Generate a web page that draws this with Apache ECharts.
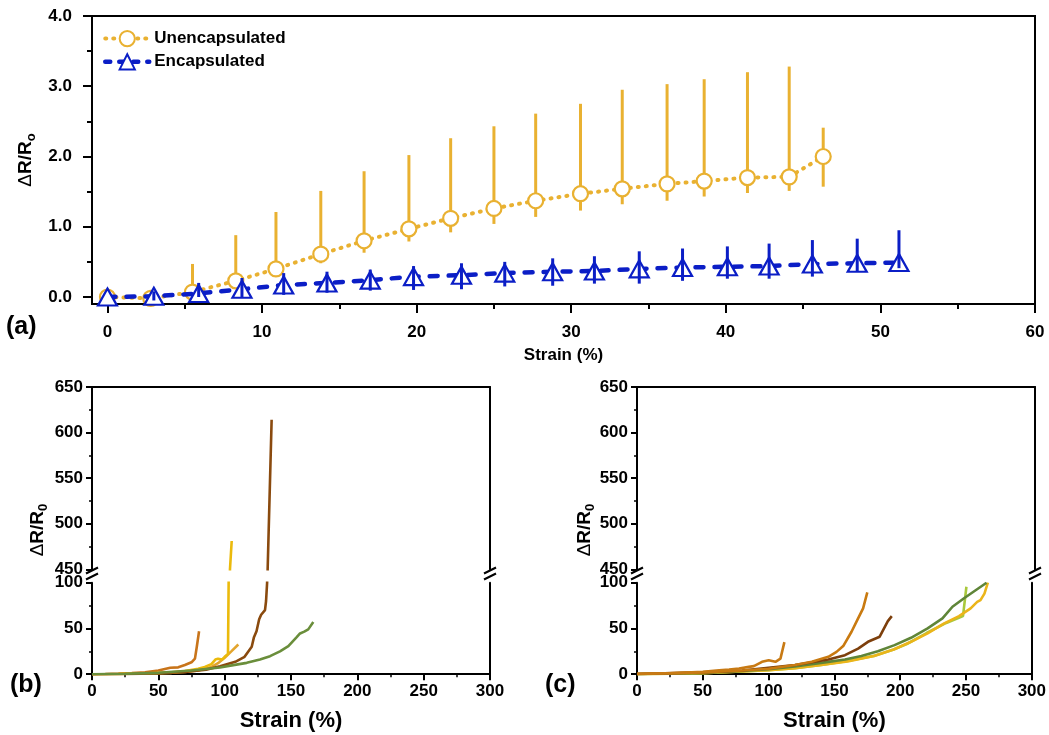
<!DOCTYPE html>
<html><head><meta charset="utf-8">
<script src="https://cdn.jsdelivr.net/npm/echarts@6/dist/echarts.min.js"></script>
<style>html,body{margin:0;padding:0;background:#fff}#c{width:1049px;height:735px}</style>
</head><body><div id="c"></div><script>
// ---------- Panel (a) data ----------
const unencX  = [0, 2.8, 5.5, 8.3, 10.9, 13.8, 16.6, 19.5, 22.2, 25.0, 27.7, 30.6, 33.3, 36.2, 38.6, 41.4, 44.1, 46.3];
const unencY  = [0, -0.02, 0.07, 0.23, 0.40, 0.61, 0.80, 0.97, 1.12, 1.26, 1.37, 1.47, 1.54, 1.61, 1.65, 1.70, 1.71, 2.00];
const unencHi = [0, 0.10, 0.47, 0.88, 1.21, 1.51, 1.79, 2.02, 2.26, 2.43, 2.61, 2.75, 2.95, 3.03, 3.10, 3.20, 3.28, 2.41];
const unencLo = [0, -0.10, -0.04, 0.14, 0.30, 0.48, 0.63, 0.79, 0.92, 1.04, 1.14, 1.23, 1.32, 1.37, 1.43, 1.48, 1.51, 1.57];

const encX  = [0, 3.0, 5.9, 8.7, 11.4, 14.2, 17.0, 19.8, 22.9, 25.7, 28.8, 31.5, 34.4, 37.2, 40.1, 42.8, 45.6, 48.5, 51.2];
const encY  = [0, 0.01, 0.05, 0.11, 0.17, 0.20, 0.24, 0.29, 0.31, 0.34, 0.36, 0.37, 0.40, 0.42, 0.43, 0.44, 0.47, 0.48, 0.49];
const encHi = [0, 0.08, 0.20, 0.27, 0.34, 0.36, 0.39, 0.44, 0.48, 0.50, 0.55, 0.58, 0.65, 0.69, 0.72, 0.76, 0.81, 0.83, 0.95];
const encLo = [0, -0.05, 0.00, 0.00, 0.03, 0.06, 0.09, 0.10, 0.11, 0.15, 0.16, 0.19, 0.19, 0.23, 0.26, 0.26, 0.29, 0.37, 0.41];

const aXTicks = [0, 10, 20, 30, 40, 50, 60];
const aXMinor = [5, 15, 25, 35, 45, 55];
const aYTicks = [0, 1, 2, 3, 4];
const aYMinor = [0.5, 1.5, 2.5, 3.5];

// ---------- Panel (b) data ----------
const b1X = [0, 10, 20, 30, 40, 50, 59, 65, 70, 75, 77.6, 79, 80.7];
const b1Y = [0, 0.3, 0.7, 1.2, 2, 4, 7, 7.5, 10, 13, 17, 30, 47];
const b2X = [0, 20, 40, 60, 70, 80, 85, 90, 93, 95, 98, 100, 102.5, 103, 104, 105.3];
const b2Y = [0, 0.3, 0.8, 2, 3.5, 6, 8, 11, 16, 17, 16, 19, 22, 100, 450, 481];
const b3X = [0, 20, 40, 60, 70, 80, 90, 95, 100, 105, 110.3];
const b3Y = [0, 0.2, 0.7, 1.5, 2.5, 4, 8, 12, 18, 25, 32.5];
const b4X = [0, 30, 50, 70, 86, 96.5, 108, 115, 120.4, 122, 124, 126, 127.5, 130.4, 131.2, 132, 132.4, 135.4];
const b4Y = [0, 0.3, 1, 2.5, 5, 8.8, 13.5, 19, 30, 40, 47, 60, 65, 70, 80, 100, 450, 614];
const b5X = [0, 25, 50, 75, 96.5, 106.5, 116.6, 126.6, 134.2, 141.7, 148, 154.3, 156.8, 160, 163, 166.8];
const b5Y = [0, 0.5, 1.5, 4, 7.3, 9.9, 12.4, 16, 19.7, 25, 30.7, 40.5, 44.5, 46.5, 49, 57];

// ---------- Panel (c) data ----------
const c1X = [0, 25, 50, 62.4, 70, 77.5, 85, 88.8, 95, 100.1, 105.2, 109, 112];
const c1Y = [0.5, 1, 2.5, 4.4, 5, 6.2, 8, 8.8, 13.5, 15.3, 13.5, 17, 35];
const c2X = [0, 50, 80, 100, 120, 132.8, 145.4, 151.6, 156.7, 163, 168, 171.8, 175];
const c2Y = [0.3, 2, 4, 6, 10, 13.5, 19, 24.4, 30.7, 46.4, 61, 72, 89.5];
const c3X = [0, 50, 80, 100, 120, 145.4, 158, 168, 175.5, 184.4, 190.6, 193.6];
const c3Y = [0.3, 2, 4, 7, 10, 16, 20.8, 28, 35.4, 41, 58, 63.5];
const c4X = [0, 50, 80, 100, 120, 132.8, 145.4, 158, 170.5, 183, 195.7, 208.2, 220.8, 232.1, 239.7, 248.5, 265.6];
const c4Y = [0.3, 1.5, 3.5, 5.5, 8.5, 11, 13.5, 16, 20, 25, 31.8, 39.8, 50, 61, 73.7, 83, 100];
const c5X = [0, 50, 100, 120, 140, 160, 180, 195, 208.2, 220.8, 233.4, 244.7, 253.5, 258.5, 261, 264, 266.6];
const c5Y = [0, 1, 4.5, 6.5, 10, 14, 20, 27, 35.4, 44.6, 55.5, 63.5, 72, 79, 81, 88, 100];
const c6X = [0, 50, 100, 120, 140, 160, 180, 195, 205, 220, 235, 245, 247.7, 250.3];
const c6Y = [0, 1, 4.5, 6.5, 10, 14.5, 20, 27, 33, 45, 56, 62, 63.5, 95.6];

// ---------- styling ----------
const FONT = "'Liberation Sans', Arial, sans-serif";
const ORANGE = '#E9B131';
const BLUE = '#0B1EC6';
const AXC = '#000';

const zip = (xs, ys) => xs.map((x, i) => [x, ys[i]]);

const chart = echarts.init(document.getElementById('c'), null, {renderer: 'canvas'});

const grids = [
  {left: 92, top: 16, width: 943, height: 288, show: true, borderColor: '#000', borderWidth: 2},
  {left: 92, top: 387, width: 398, height: 182.3},
  {left: 92, top: 582.7, width: 398, height: 91.5},
  {left: 637, top: 387, width: 398, height: 182.3},
  {left: 637, top: 582.7, width: 398, height: 91.5}
];

const lbl = (size, extra) => Object.assign({color: '#000', fontFamily: FONT, fontWeight: 'bold', fontSize: size}, extra || {});
const lineS = {onZero: false, lineStyle: {color: AXC, width: 2}};
const noLine = {show: false, onZero: false};

const xAxes = [
  {gridIndex: 0, type: 'value', min: -1, max: 60, position: 'bottom',
   axisLine: lineS, splitLine: {show: false},
   axisTick: {customValues: aXTicks, length: 9, lineStyle: {color: AXC, width: 2}},
   axisLabel: lbl(17, {customValues: aXTicks, margin: 20}),
   name: 'Strain (%)', nameLocation: 'middle', nameGap: 43, nameTextStyle: lbl(17)},
  {gridIndex: 0, type: 'value', min: -1, max: 60, position: 'bottom',
   axisLine: noLine, splitLine: {show: false},
   axisTick: {customValues: aXMinor, length: 5, lineStyle: {color: AXC, width: 2}},
   axisLabel: {show: false}}
];
const yAxes = [
  {gridIndex: 0, type: 'value', min: -0.1, max: 4.0, position: 'left',
   axisLine: lineS, splitLine: {show: false},
   axisTick: {customValues: aYTicks, length: 9, lineStyle: {color: AXC, width: 2}},
   axisLabel: lbl(17, {customValues: aYTicks, margin: 20, formatter: v => v.toFixed(1)}),
   name: '{d|Δ}R/R{s|o}', nameLocation: 'middle', nameGap: 50,
   nameTextStyle: lbl(19, {rich: {d: {fontFamily: FONT, fontSize: 19, fontWeight: 'normal', color: '#000'},
                                 s: {fontFamily: FONT, fontSize: 13, fontWeight: 'bold', color: '#000', padding: [10, 0, 0, 0]}}})},
  {gridIndex: 0, type: 'value', min: -0.1, max: 4.0, position: 'left',
   axisLine: noLine, splitLine: {show: false},
   axisTick: {customValues: aYMinor, length: 5, lineStyle: {color: AXC, width: 2}},
   axisLabel: {show: false}}
];

function brokenPanel(gUp, gLo) {
  xAxes.push({gridIndex: gUp, type: 'value', min: 0, max: 300, position: 'top',
    axisLine: lineS, axisTick: {show: false}, axisLabel: {show: false}, splitLine: {show: false}});
  const upIdxX = xAxes.length - 1;
  xAxes.push({gridIndex: gLo, type: 'value', min: 0, max: 300, interval: 50, position: 'bottom',
    axisLine: lineS, splitLine: {show: false},
    axisTick: {length: 6, lineStyle: {color: AXC, width: 2}},
    minorTick: {show: true, splitNumber: 2, length: 3, lineStyle: {color: AXC, width: 1.5}},
    axisLabel: lbl(17, {margin: 9}),
    name: 'Strain (%)', nameLocation: 'middle', nameGap: 36, nameTextStyle: lbl(22)});
  const loIdxX = xAxes.length - 1;
  yAxes.push({gridIndex: gUp, type: 'value', min: 450, max: 650, interval: 50, position: 'left',
    axisLine: lineS, splitLine: {show: false},
    axisTick: {length: 6, lineStyle: {color: AXC, width: 2}},
    minorTick: {show: true, splitNumber: 2, length: 3, lineStyle: {color: AXC, width: 1.5}},
    axisLabel: lbl(17, {margin: 9})});
  const upIdxY = yAxes.length - 1;
  yAxes.push({gridIndex: gUp, type: 'value', min: 450, max: 650, position: 'right',
    axisLine: lineS, axisTick: {show: false}, axisLabel: {show: false}, splitLine: {show: false}});
  yAxes.push({gridIndex: gLo, type: 'value', min: 0, max: 100, interval: 50, position: 'left',
    axisLine: lineS, splitLine: {show: false},
    axisTick: {length: 6, lineStyle: {color: AXC, width: 2}},
    minorTick: {show: true, splitNumber: 2, length: 3, lineStyle: {color: AXC, width: 1.5}},
    axisLabel: lbl(17, {margin: 9})});
  const loIdxY = yAxes.length - 1;
  yAxes.push({gridIndex: gLo, type: 'value', min: 0, max: 100, position: 'right',
    axisLine: lineS, axisTick: {show: false}, axisLabel: {show: false}, splitLine: {show: false}});
  return {upIdxX, loIdxX, upIdxY, loIdxY};
}
const pb = brokenPanel(1, 2);
const pc = brokenPanel(3, 4);

function errBar(xs, lo, hi, color, width, z) {
  return {type: 'custom', xAxisIndex: 0, yAxisIndex: 0, z: z, silent: true, clip: true,
    data: xs.map((x, i) => [x, lo[i], hi[i]]),
    encode: {x: 0, y: [1, 2]},
    renderItem: (params, api) => {
      const p1 = api.coord([api.value(0), api.value(1)]);
      const p2 = api.coord([api.value(0), api.value(2)]);
      return {type: 'line', shape: {x1: p1[0], y1: p1[1], x2: p2[0], y2: p2[1]},
              style: {stroke: color, lineWidth: width}};
    }};
}

function curve(xs, ys, color, p) {
  const base = {type: 'line', symbol: 'none', silent: true, clip: true,
    lineStyle: {color: color, width: 2.6}, data: zip(xs, ys)};
  return [
    Object.assign({}, base, {xAxisIndex: p.loIdxX, yAxisIndex: p.loIdxY}),
    Object.assign({}, base, {xAxisIndex: p.upIdxX, yAxisIndex: p.upIdxY})
  ];
}

const series = [
  errBar(unencX, unencLo, unencHi, ORANGE, 3, 2),
  {name: 'Unencapsulated', type: 'line', xAxisIndex: 0, yAxisIndex: 0, z: 3,
   data: zip(unencX, unencY), symbol: 'circle', symbolSize: 15, showAllSymbol: true,
   lineStyle: {color: ORANGE, width: 4, type: [1, 7], cap: 'round'},
   itemStyle: {color: '#fff', borderColor: ORANGE, borderWidth: 2.2}},
  {name: 'Encapsulated', type: 'line', xAxisIndex: 0, yAxisIndex: 0, z: 4,
   data: zip(encX, encY), symbol: 'triangle', symbolSize: [19, 17], showAllSymbol: true,
   lineStyle: {color: BLUE, width: 4.5, type: [8, 11], cap: 'round'},
   itemStyle: {color: '#fff', borderColor: BLUE, borderWidth: 2.2}},
  errBar(encX, encLo, encHi, BLUE, 3, 5)
]
.concat(curve(b1X, b1Y, '#C8741A', pb))
.concat(curve(b3X, b3Y, '#E3A52E', pb))
.concat(curve(b2X, b2Y, '#EBBA0C', pb))
.concat(curve(b4X, b4Y, '#8A4A0E', pb))
.concat(curve(b5X, b5Y, '#6A8E3B', pb))
.concat(curve(c6X, c6Y, '#A9C83C', pc))
.concat(curve(c5X, c5Y, '#EBB51A', pc))
.concat(curve(c4X, c4Y, '#5F8538', pc))
.concat(curve(c3X, c3Y, '#7D3F0C', pc))
.concat(curve(c2X, c2Y, '#C97A10', pc))
.concat(curve(c1X, c1Y, '#C87A14', pc));

function breakMark(x) {
  return [
    {type: 'line', shape: {x1: x - 6, y1: 573.5, x2: x + 6, y2: 567.5}, style: {stroke: '#000', lineWidth: 2}},
    {type: 'line', shape: {x1: x - 6, y1: 579.5, x2: x + 6, y2: 573.5}, style: {stroke: '#000', lineWidth: 2}}
  ];
}
const yTitleRich = {
  d: {fontFamily: FONT, fontSize: 19, fontWeight: 'normal', fill: '#000'},
  r: {fontFamily: FONT, fontSize: 19, fontWeight: 'bold', fill: '#000'},
  s: {fontFamily: FONT, fontSize: 13, fontWeight: 'bold', fill: '#000', padding: [10, 0, 0, 0]}
};
const graphic = [
  {type: 'text', left: 6, top: 315, style: {text: '(a)', font: 'bold 25px ' + FONT, fill: '#000'}},
  {type: 'text', left: 10, top: 673, style: {text: '(b)', font: 'bold 25px ' + FONT, fill: '#000'}},
  {type: 'text', left: 545, top: 673, style: {text: '(c)', font: 'bold 25px ' + FONT, fill: '#000'}},
  {type: 'text', x: 38, y: 530, rotation: Math.PI / 2,
   style: {text: '{d|Δ}{r|R/R}{s|0}', rich: yTitleRich, align: 'center', verticalAlign: 'middle'}},
  {type: 'text', x: 585, y: 530, rotation: Math.PI / 2,
   style: {text: '{d|Δ}{r|R/R}{s|0}', rich: yTitleRich, align: 'center', verticalAlign: 'middle'}}
].concat(breakMark(92), breakMark(490), breakMark(637), breakMark(1035));

chart.setOption({
  animation: false,
  backgroundColor: '#fff',
  grid: grids,
  xAxis: xAxes,
  yAxis: yAxes,
  legend: {
    data: [
      {name: 'Unencapsulated', lineStyle: {width: 4, type: [1, 7], cap: 'round'}},
      {name: 'Encapsulated', lineStyle: {width: 4.5, type: [5, 9], cap: 'round'}}
    ],
    orient: 'vertical', left: 103, top: 30, padding: 0,
    itemWidth: 44, itemHeight: 19, itemGap: 6,
    textStyle: {color: '#000', fontFamily: FONT, fontWeight: 'bold', fontSize: 17}},
  graphic: graphic,
  series: series
});
</script></body></html>
